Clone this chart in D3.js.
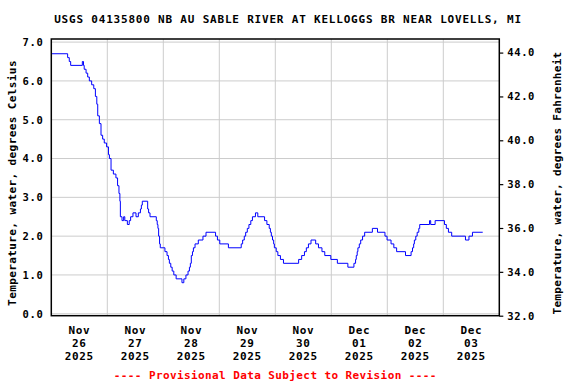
<!DOCTYPE html>
<html>
<head>
<meta charset="utf-8">
<script src="https://cdn.jsdelivr.net/npm/d3@7"></script>
<style>
  body { margin: 0; background: #fff; }
  text { font-family: "DejaVu Sans Mono", monospace; font-weight: bold; }
</style>
</head>
<body>
<svg id="chart" width="576" height="384"></svg>
<script>
// hours since Nov 26 2025 00:00 where the reading changes, and the new value (deg C)
let hours = [0, 7, 7.7, 8.3, 13.3, 13.8, 14.1, 14.9, 15.6, 16.3, 17.3, 18.2, 18.9, 19.5, 19.9, 20.6, 21.3, 22, 22.7, 23.7, 24.5, 24.9, 25.6, 26.6, 27.7, 28.4, 29, 29.4,
  29.6, 30.3, 31, 31.5, 32.6, 33.4, 34, 35, 36.3, 37.3, 38.2, 38.6, 39, 41.3, 41.7, 42.3, 45, 45.4, 45.7, 46, 46.4, 46.7, 48.7, 49.6, 50.2, 50.6, 51.2, 51.8, 52.5, 53.5,
  56, 56.8, 57.7, 58.6, 59.2, 59.6, 60, 60.5, 60.9, 61.6, 63, 65, 66.3, 70.4, 71.2, 72.2, 75.9, 81.4, 82, 82.7, 83.3, 84, 84.7, 85.5, 86.2, 87.5, 88.5,
  91.4, 92.4, 93.4, 93.9, 94.3, 94.8, 95.3, 95.6, 96.4, 97.1, 98.2, 99.5, 106, 107.3, 108.5, 109.3, 110.2, 111.3, 113.3, 114.5, 116, 117.2, 119.8, 122.6,
  127.1, 129.7, 130.4, 130.7, 131.1, 131.4, 132, 132.6, 133.4, 134.3, 137.6, 139.8, 143, 143.9, 145.6, 146.8, 148, 151.8, 154.2, 154.8, 155.3, 155.6,
  156.2, 156.8, 157.5, 157.9, 162.1, 162.6, 164.5, 168.5, 169.3, 170.2, 171.6, 177.5, 179, 180.5, 184.9];
let tempC = [6.7, 6.6, 6.5, 6.4, 6.5, 6.4, 6.3, 6.2, 6.1, 6.0, 5.9, 5.8, 5.6, 5.4, 5.1, 4.9, 4.6, 4.5, 4.4, 4.3, 4.1, 4.0, 3.7, 3.6, 3.5, 3.3, 3.1, 2.9,
  2.5, 2.4, 2.5, 2.4, 2.3, 2.4, 2.5, 2.6, 2.5, 2.6, 2.7, 2.8, 2.9, 2.7, 2.6, 2.5, 2.4, 2.3, 2.2, 2.0, 1.8, 1.7, 1.6, 1.5, 1.4, 1.3, 1.2, 1.1, 1.0, 0.9,
  0.8, 0.9, 1.0, 1.1, 1.2, 1.3, 1.5, 1.6, 1.7, 1.8, 1.9, 2.0, 2.1, 2.0, 1.9, 1.8, 1.7, 1.8, 1.9, 2.0, 2.1, 2.2, 2.3, 2.4, 2.5, 2.6, 2.5,
  2.4, 2.3, 2.2, 2.1, 2.0, 1.9, 1.8, 1.7, 1.6, 1.5, 1.4, 1.3, 1.4, 1.5, 1.6, 1.7, 1.8, 1.9, 1.8, 1.7, 1.6, 1.5, 1.4, 1.3,
  1.2, 1.3, 1.4, 1.5, 1.6, 1.7, 1.8, 1.9, 2.0, 2.1, 2.2, 2.1, 2.0, 1.9, 1.8, 1.7, 1.6, 1.5, 1.6, 1.7, 1.8, 1.9,
  2.0, 2.1, 2.2, 2.3, 2.4, 2.3, 2.4, 2.3, 2.2, 2.1, 2.0, 1.9, 2.0, 2.1, 2.1];

let celsiusTicks = [0, 1, 2, 3, 4, 5, 6, 7];
let fahrenheitTicks = [32, 34, 36, 38, 40, 42, 44];
let dayMonths = ["Nov", "Nov", "Nov", "Nov", "Nov", "Dec", "Dec", "Dec"];
let dayNums = ["26", "27", "28", "29", "30", "01", "02", "03"];
let dayYears = ["2025", "2025", "2025", "2025", "2025", "2025", "2025", "2025"];

let title = "USGS 04135800 NB AU SABLE RIVER AT KELLOGGS BR NEAR LOVELLS, MI";
let leftTitle = "Temperature, water, degrees Celsius";
let rightTitle = "Temperature, water, degrees Fahrenheit";
let footer = "---- Provisional Data Subject to Revision ----";

let svg = d3.select("#chart");
let plotL = 51.3, plotR = 499.3, plotT = 39, plotB = 315.7;

let start = new Date(2025, 10, 26);
let x = d3.scaleTime().domain([start, d3.timeDay.offset(start, 8)]).range([plotL, plotR]);
let y = d3.scaleLinear().domain([-0.05, 7.08]).range([plotB, plotT]);
let yF = d3.scaleLinear().domain([32, 44.62]).range([plotB, plotT]);

let data = hours.map((h, i) => ({ t: new Date(start.getTime() + h * 3600e3), v: tempC[i] }));

// grid
let days = d3.timeDay.range(start, d3.timeDay.offset(start, 9));
svg.append("g").selectAll("line").data(days.slice(1, 8)).enter().append("line")
  .attr("x1", d => x(d)).attr("x2", d => x(d)).attr("y1", plotT).attr("y2", plotB)
  .attr("stroke", "#cccccc").attr("stroke-width", 1);
svg.append("g").selectAll("line").data(celsiusTicks).enter().append("line")
  .attr("x1", plotL).attr("x2", plotR).attr("y1", d => y(d)).attr("y2", d => y(d))
  .attr("stroke", "#cccccc").attr("stroke-width", 1);

// data line
let line = d3.line().x(d => x(d.t)).y(d => y(d.v)).curve(d3.curveStepAfter);
svg.append("path").datum(data).attr("d", line)
  .attr("fill", "none").attr("stroke", "#0000ff").attr("stroke-width", 1);

// frame
svg.append("rect").attr("x", plotL).attr("y", plotT).attr("width", plotR - plotL).attr("height", plotB - plotT)
  .attr("fill", "none").attr("stroke", "#000").attr("stroke-width", 1.5);

// left axis
let yAxis = d3.axisLeft(y).tickValues(celsiusTicks).tickSize(0).tickPadding(8).tickFormat(d3.format(".1f"));
let gL = svg.append("g").attr("transform", `translate(${plotL},0)`).call(yAxis);
gL.select(".domain").remove();
gL.selectAll("text").attr("font-size", 10.5).attr("letter-spacing", 0.6).attr("font-family", "DejaVu Sans Mono").attr("font-weight", "bold").attr("fill", "#000");

// right axis
let yAxisR = d3.axisRight(yF).tickValues(fahrenheitTicks).tickSize(4).tickPadding(4).tickFormat(d3.format(".1f"));
let gR = svg.append("g").attr("transform", `translate(${plotR},0)`).call(yAxisR);
gR.select(".domain").remove();
gR.selectAll("line").attr("stroke", "#000").attr("stroke-width", 1.2);
gR.selectAll("text").attr("font-size", 10.5).attr("letter-spacing", 0.6).attr("font-family", "DejaVu Sans Mono").attr("font-weight", "bold").attr("fill", "#000");

// x labels at midday
let noon = days.slice(0, 8).map(d => d3.timeHour.offset(d, 12));
let xl = svg.append("g").selectAll("text").data(noon).enter().append("text")
  .attr("x", d => x(d)).attr("text-anchor", "middle").attr("font-size", 11).attr("letter-spacing", 0.6);
xl.append("tspan").attr("x", d => x(d)).attr("y", 334).text((d, i) => dayMonths[i]);
xl.append("tspan").attr("x", d => x(d)).attr("y", 347).text((d, i) => dayNums[i]);
xl.append("tspan").attr("x", d => x(d)).attr("y", 360).text((d, i) => dayYears[i]);

// titles
svg.append("text").attr("x", 288).attr("y", 23).attr("text-anchor", "middle")
  .attr("font-size", 11).attr("letter-spacing", 0.8).text(title);
svg.append("text").attr("transform", "translate(16,183) rotate(-90)").attr("text-anchor", "middle")
  .attr("font-size", 11).attr("letter-spacing", 0.4).text(leftTitle);
svg.append("text").attr("transform", "translate(561,183) rotate(-90)").attr("text-anchor", "middle")
  .attr("font-size", 11).attr("letter-spacing", 0.3).text(rightTitle);
svg.append("text").attr("x", (plotL + plotR) / 2).attr("y", 379).attr("text-anchor", "middle")
  .attr("font-size", 11).attr("letter-spacing", 0.4).attr("fill", "#ff0000").text(footer);
</script>
</body>
</html>
